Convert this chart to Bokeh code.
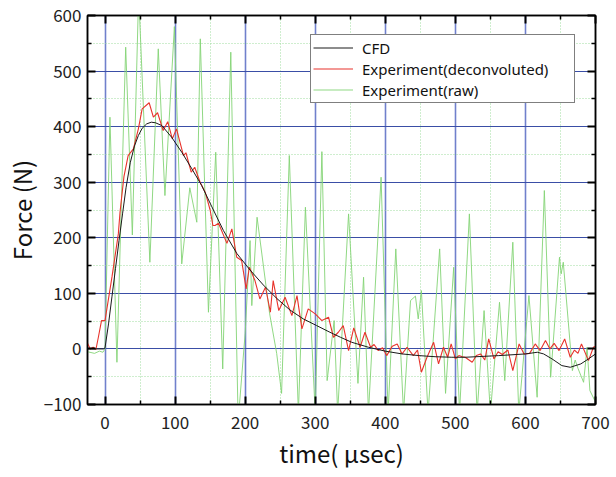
from bokeh.plotting import figure
from bokeh.models import LinearAxis, FixedTicker, Legend, LegendItem
from bokeh.embed import file_html
from bokeh.resources import INLINE

# ---- data ----
x_ticks = [0, 100, 200, 300, 400, 500, 600, 700]
x_minor = [-50, 50, 150, 250, 350, 450, 550, 650]
y_ticks = [-100, 0, 100, 200, 300, 400, 500, 600]
y_minor = [-50, 50, 150, 250, 350, 450, 550]

cfd_t = [-25, -2, 0, 5, 10, 15, 20, 25, 30, 36, 42, 47.6, 53, 59.5, 66, 72, 81, 95,
         109.5, 124, 138, 152, 169, 188, 207, 226, 245, 264, 283, 302, 321, 336,
         352, 376, 400, 424, 448, 471, 495, 514, 562, 600, 617, 626, 638, 652, 664,
         679, 690, 700]
cfd_f = [0, 0, 2, 45, 95, 145, 195, 243, 290, 335, 365, 384, 397, 405, 408, 407, 402, 381,
         354, 324, 294, 257, 213, 172, 142, 115, 91, 70, 54, 42, 30, 21,
         12, 3, -4, -9, -12, -14, -15, -15, -12, -9, -6, -9, -18, -30, -33,
         -27, -18, -9]

dec_t = [-25, -21, -17, -13, -9.5, -5, 0, 10, 19, 21.4, 27, 33, 40.5, 47.6, 53, 63, 69,
         75, 83, 89.5, 96, 102, 112, 115.5, 123, 128, 135.7, 143, 150, 154, 157, 162,
         174, 181, 188, 195, 201.4, 206, 214, 221, 229, 236, 240, 248, 257, 266.7, 274,
         281, 290, 300, 309.5, 319, 326, 333, 340, 347.6, 355, 364, 371, 379, 384, 390,
         396, 402, 410, 417, 424, 431, 440, 446, 451.5, 459.5, 469, 476, 483, 489, 494,
         500, 505, 510, 514, 524, 530, 536, 542, 547.6, 555, 561, 567, 575, 582, 591,
         598, 606, 614, 621, 628.6, 635, 641, 648, 656, 664, 670, 675, 680, 690, 697, 700]
dec_f = [10, 0, 3, -1, 21, 51, 51, 130, 207, 246, 310, 348, 360, 396, 432, 443, 417,
         425, 393, 409, 378, 396, 348, 353, 318, 327, 300, 282, 250, 222, 222, 226,
         190, 216, 165, 159, 108, 147, 123, 90, 111, 66, 123, 69, 93, 60, 96,
         36, 72, 63, 51, 57, 21, 30, 42, -3, 38, 3, 30, 3, 8, -3,
         2, -12, 5, 9, -9, 3, -12, -2, -42, -15, 12, -27, 3, -15, 9,
         -18, -12, -14, -15, -24, -12, -9, -20, 18, -18, -5, -10, -2, -39, 9,
         -9, -8, 9, -3, 15, 0, 10, -3, 18, -15, -2, -8, 9, -21, 3, 5]

raw_t = [-25, -15, -8, -3, 0, 7, 17, 29.5, 39, 48, 64, 76, 85.5, 99, 109.5, 121, 131,
         136, 147.6, 158, 168, 179.5, 190, 200, 207, 209.5, 217, 235, 245, 252, 263,
         276, 286, 300, 309.5, 317, 327, 332, 347.6, 361, 369, 376, 394, 404, 415,
         426, 436, 443, 447, 451.5, 461, 477.6, 486, 497.6, 506, 520, 531, 541, 550,
         563, 570.5, 582, 590.5, 605, 616.7, 627, 636, 648.6, 651, 654, 667, 671, 675,
         683, 688, 692, 699]
raw_f = [-5, -8, -4, -6, 0, 417, -24, 543, 205, 640, 156, 540, 276, 580, 153, 290, 228,
         558, 66, 354, -36, 534, -130, 28, 195, 78, 237, 63, -8, -80, 348,
         -115, 255, -115, 355, -57, 51, -115, 243, -62, 129, -115, 309, -115, 180,
         -115, 87, 95, 54, 105, -115, 180, -80, 147, -115, 243, -115, 69, -115,
         84, -57, 192, -115, 96, -87, 285, -51, 165, 135, 156, -39, -20, -35,
         -60, 3, -75, -93]

series_names = ["CFD", "Experiment(deconvoluted)", "Experiment(raw)"]

FONT = "Noto Sans CJK JP"

p = figure(width=610, height=472, x_range=(-25, 700), y_range=(-100, 600),
           output_backend="svg", toolbar_location=None,
           min_border_left=87, min_border_right=15, min_border_top=15, min_border_bottom=66)
p.background_fill_color = "white"
p.border_fill_color = "white"
p.outline_line_color = "black"
p.outline_line_width = 1.5

xt = FixedTicker(ticks=x_ticks, minor_ticks=x_minor)
yt = FixedTicker(ticks=y_ticks, minor_ticks=y_minor)
p.xaxis.ticker = xt
p.yaxis.ticker = yt

# grids
p.xgrid.grid_line_color = "#7080cc"
p.xgrid.grid_line_width = 1.6
p.ygrid.grid_line_color = "#3a4ea6"
p.ygrid.grid_line_width = 1.2
for g in (p.xgrid, p.ygrid):
    g.minor_grid_line_color = "#9fdc9f"
    g.minor_grid_line_dash = "1 2"
    g.minor_grid_line_width = 1

# axes
for ax in (p.xaxis, p.yaxis):
    ax.major_tick_in = 8
    ax.major_tick_out = 0
    ax.minor_tick_in = 4
    ax.minor_tick_out = 0
    ax.major_tick_line_width = 2
    ax.minor_tick_line_width = 1.5
    ax.major_tick_line_color = "black"
    ax.minor_tick_line_color = "black"
    ax.axis_line_color = "black"
    ax.axis_line_width = 1.5
    ax.major_label_text_font = FONT
    ax.major_label_text_font_size = "17px"
    ax.major_label_text_color = "#222222"
    ax.axis_label_text_font = FONT
    ax.axis_label_text_font_size = "24px"
    ax.axis_label_text_font_style = "normal"
    ax.axis_label_text_color = "#111111"

p.xaxis.axis_label = "time( μsec)"
p.yaxis.axis_label = "Force (N)"
p.xaxis.major_label_standoff = 11
p.yaxis.major_label_standoff = 6
p.xaxis.axis_label_standoff = 3
p.yaxis.axis_label_standoff = 2

for loc, tk in (("above", xt), ("right", yt)):
    a = LinearAxis(ticker=tk, major_label_text_font_size="1px", major_label_text_color=None,
                   major_label_standoff=0,
                   major_tick_in=8, major_tick_out=0, minor_tick_in=4, minor_tick_out=0,
                   major_tick_line_width=2, minor_tick_line_width=1.5,
                   axis_line_color="black", axis_line_width=1.5)
    p.add_layout(a, loc)

r_raw = p.line(raw_t, raw_f, line_color="#84d476", line_width=1, line_alpha=0.9)
r_dec = p.line(dec_t, dec_f, line_color="#e8332c", line_width=1.1)
r_cfd = p.line(cfd_t, cfd_f, line_color="#1a1a1a", line_width=1)

legend = Legend(items=[
    LegendItem(label=series_names[0], renderers=[r_cfd]),
    LegendItem(label=series_names[1], renderers=[r_dec]),
    LegendItem(label=series_names[2], renderers=[r_raw]),
], location=(223, 301))
legend.label_text_font = "Noto Sans"
legend.label_text_font_size = "15px"
legend.label_text_color = "#111111"
legend.label_height = 21
legend.glyph_height = 21
legend.glyph_width = 40
legend.label_width = 210
legend.label_standoff = 9
legend.spacing = 0
legend.padding = 2
legend.margin = 0
legend.border_line_color = "black"
legend.border_line_width = 1
legend.background_fill_alpha = 1
p.add_layout(legend, "center")

open("out.html", "w").write(file_html(p, INLINE))
